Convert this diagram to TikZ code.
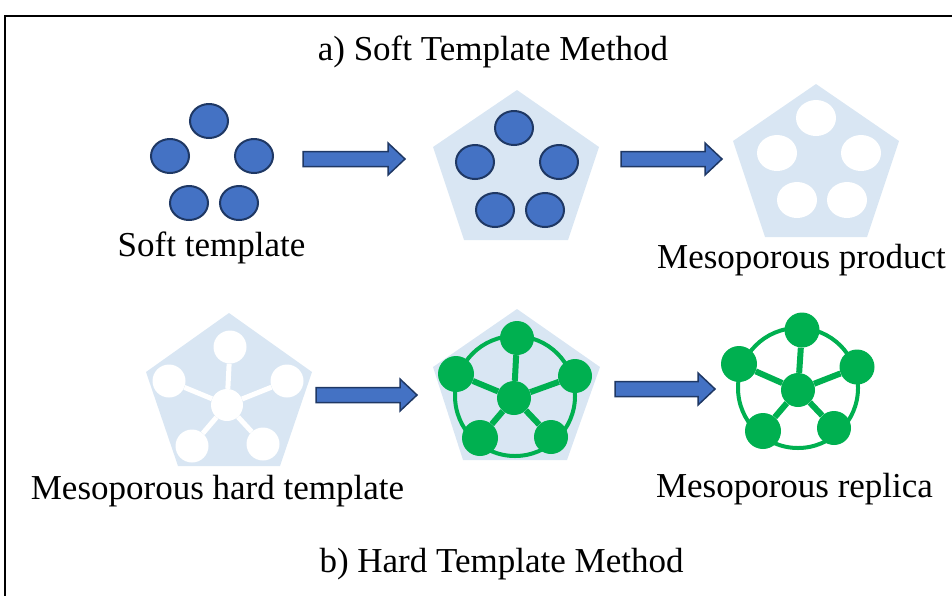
\documentclass[tikz,border=0pt]{standalone}
\usepackage{fontspec}
\setmainfont{Liberation Serif}
\usetikzlibrary{shapes.geometric}

\definecolor{tblue}{HTML}{4472C4}
\definecolor{tnavy}{HTML}{1F3864}
\definecolor{tgreen}{HTML}{00B050}
\definecolor{silica}{HTML}{D9E6F3}

\tikzset{
  label text/.style={font=\fontsize{35}{40}\selectfont, anchor=base, inner sep=0pt},
  micelle/.style={ellipse, fill=tblue, draw=tnavy, line width=2pt,
                  minimum width=38pt, minimum height=34pt, inner sep=0pt},
  pore/.style={ellipse, fill=white, minimum width=40pt, minimum height=36pt, inner sep=0pt},
  hole/.style={circle, fill=white, inner sep=0pt},
  ball/.style={circle, fill=tgreen, inner sep=0pt},
  silica body/.style={fill=silica},
  white bar/.style={draw=white, line width=5pt},
  green bar/.style={draw=tgreen, line width=6pt},
  green ring/.style={draw=tgreen, line width=4pt},
  block arrow/.style={fill=tblue, draw=tnavy, line width=1.5pt, line join=miter},
}

% block arrow: #1 left end, #2 tip, #3 centre line
\newcommand\blockarrow[3]{%
  \path[block arrow] (#1,#3-7.5) -- (#2-17,#3-7.5) -- (#2-17,#3-16) -- (#2,#3)
    -- (#2-17,#3+16) -- (#2-17,#3+7.5) -- (#1,#3+7.5) -- cycle;}

\begin{document}
\begin{tikzpicture}[x=1pt,y=-1pt]
\useasboundingbox (0,0) rectangle (952,595);

% outer frame
\draw[line width=2.5pt] (5,605) -- (5,16) -- (960,16);

% ---------- a) soft template ----------
\node[label text] (titleA) at (493,60) {a) Soft Template Method};

\node[micelle] (s1) at (209,121) {};
\node[micelle] (s2) at (170,156) {};
\node[micelle] (s3) at (254,156) {};
\node[micelle] (s4) at (189,203) {};
\node[micelle] (s5) at (239,203) {};
\node[label text] (softlab) at (211.5,256) {Soft template};

\blockarrow{303}{405}{159}

% silica around micelles
\path[silica body] (517,90) -- (599,147) -- (568,240) -- (464,240) -- (433,147) -- cycle;
\node[micelle] (m1) at (514,128) {};
\node[micelle] (m2) at (475,162) {};
\node[micelle] (m3) at (559,162) {};
\node[micelle] (m4) at (495,210) {};
\node[micelle] (m5) at (545,210) {};

\blockarrow{621}{722}{159}

% calcined product
\path[silica body] (816,84) -- (899,141) -- (867,237) -- (765,237) -- (733,141) -- cycle;
\node[pore] (p1) at (816,118) {};
\node[pore] (p2) at (777,153) {};
\node[pore] (p3) at (861,153) {};
\node[pore] (p4) at (797,200) {};
\node[pore] (p5) at (847,200) {};
\node[label text] (prodlab) at (801.5,268) {Mesoporous product};

% ---------- b) hard template ----------
\path[silica body] (229,313) -- (312,372) -- (280,466) -- (178,466) -- (146,372) -- cycle;
\node[hole, minimum size=32pt] (hc) at (227,405) {};
\node[hole, minimum size=33pt] (h1) at (230,347) {};
\node[hole, minimum size=33pt] (h2) at (169,381) {};
\node[hole, minimum size=33pt] (h3) at (287,381) {};
\node[hole, minimum size=33pt] (h4) at (192,446) {};
\node[hole, minimum size=33pt] (h5) at (263,444) {};
\foreach \n in {h1,h2,h3,h4,h5} \draw[white bar] (hc) -- (\n);
\node[label text] (hardlab) at (217.5,499) {Mesoporous hard template};

\blockarrow{316}{417}{395}

% template filled with precursor
\path[silica body] (517,309) -- (600,367) -- (567,460) -- (463,460) -- (433,367) -- cycle;
\draw[green ring] (515,396) circle[radius=60];
\node[ball, minimum size=34pt] (gc) at (514,398) {};
\node[ball, minimum size=34pt] (g1) at (517,338) {};
\node[ball, minimum size=36pt] (g2) at (456,374) {};
\node[ball, minimum size=34pt] (g3) at (575,376) {};
\node[ball, minimum size=36pt] (g4) at (480,438) {};
\node[ball, minimum size=34pt] (g5) at (551,437) {};
\foreach \n in {g1,g2,g3,g4,g5} \draw[green bar] (gc) -- (\n);

\blockarrow{615}{715}{389}

% replica after template removal
\draw[green ring] (798,388) circle[radius=60];
\node[ball, minimum size=34pt] (rc) at (798,390) {};
\node[ball, minimum size=35pt] (r1) at (802,330) {};
\node[ball, minimum size=36pt] (r2) at (739,364) {};
\node[ball, minimum size=35pt] (r3) at (857,367) {};
\node[ball, minimum size=36pt] (r4) at (763,431) {};
\node[ball, minimum size=34pt] (r5) at (834,428) {};
\foreach \n in {r1,r2,r3,r4,r5} \draw[green bar] (rc) -- (\n);
\node[label text] (replab) at (794.5,497) {Mesoporous replica};

\node[label text] (titleB) at (501.5,572) {b) Hard Template Method};
\end{tikzpicture}
\end{document}
